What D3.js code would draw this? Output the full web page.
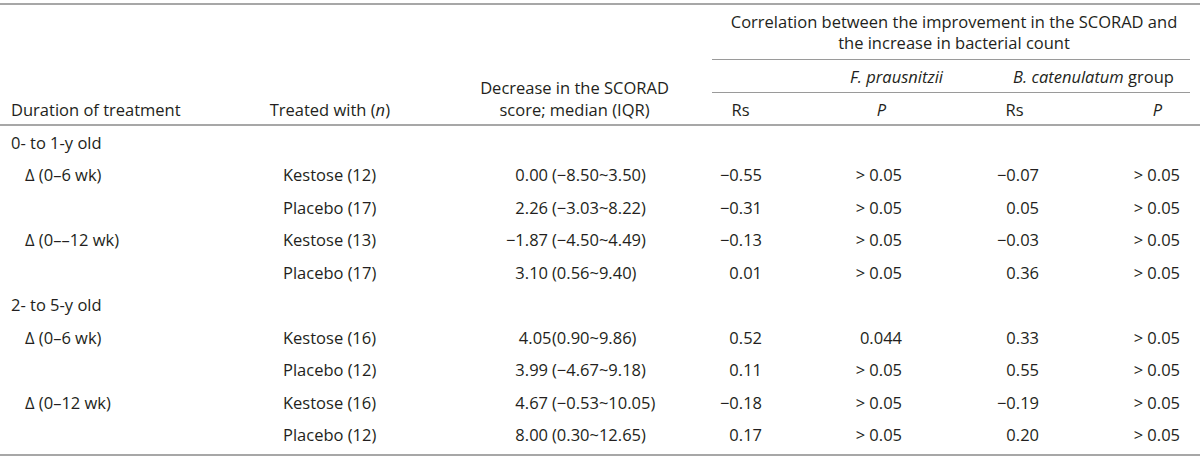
<!DOCTYPE html>
<html>
<head>
<meta charset="utf-8">
<script src="https://cdn.jsdelivr.net/npm/d3@7"></script>
<style>
  html, body { margin: 0; padding: 0; background: #fff; }
  svg text { font-family: "Open Sans", "Noto Sans", sans-serif; font-size: 16.5px; fill: #231f20; }
</style>
</head>
<body>
<svg id="chart" width="1200" height="459"></svg>
<script>
// ---- data ----
const ageGroups = ["0- to 1-y old", "2- to 5-y old"];
const durations = ["Δ (0–6 wk)", "Δ (0––12 wk)", "Δ (0–6 wk)", "Δ (0–12 wk)"];
const treatments = ["Kestose (12)", "Placebo (17)", "Kestose (13)", "Placebo (17)",
                    "Kestose (16)", "Placebo (12)", "Kestose (16)", "Placebo (12)"];
const scoradDecrease = ["0.00 (−8.50~3.50)", "2.26 (−3.03~8.22)", "−1.87 (−4.50~4.49)", "3.10 (0.56~9.40)",
                        "4.05(0.90~9.86)", "3.99 (−4.67~9.18)", "4.67 (−0.53~10.05)", "8.00 (0.30~12.65)"];
const fpRs = ["−0.55", "−0.31", "−0.13", "0.01", "0.52", "0.11", "−0.18", "0.17"];
const fpP  = ["> 0.05", "> 0.05", "> 0.05", "> 0.05", "0.044", "> 0.05", "> 0.05", "> 0.05"];
const bcRs = ["−0.07", "0.05", "−0.03", "0.36", "0.33", "0.55", "−0.19", "0.20"];
const bcP  = ["> 0.05", "> 0.05", "> 0.05", "> 0.05", "> 0.05", "> 0.05", "> 0.05", "> 0.05"];

// ---- layout ----
const svg = d3.select("#chart");
const W = 1200;

// body rows: 0 = group header, 1..4 data, 5 = group header, 6..9 data
const rowY = d3.scaleLinear().domain([0, 9]).range([143, 435.5]);

const col = {
  dur: 11, durIndent: 25, treat: 283, paren: 552,
  rs1: 762, p1: 902, rs2: 1039, p2: 1180
};

const lineMain = { stroke: "#a7a7a7", width: 2 };
const lineSub = { stroke: "#9a9a9a", width: 1.2 };

function hline(x1, x2, y, st) {
  svg.append("line").attr("x1", x1).attr("x2", x2).attr("y1", y).attr("y2", y)
    .attr("stroke", st.stroke).attr("stroke-width", st.width);
}

hline(0, W, 4, lineMain);
hline(712, 1190, 59.5, lineSub);
hline(712, 1190, 92.5, lineSub);
hline(0, W, 125, lineMain);
hline(0, W, 455, lineMain);

function txt(x, y, s, anchor) {
  return svg.append("text").attr("x", x).attr("y", y).attr("dy", "0.35em")
    .attr("text-anchor", anchor || "start").text(s);
}

// ---- header ----
txt(954, 22, "Correlation between the improvement in the SCORAD and", "middle");
txt(954, 43, "the increase in bacterial count", "middle");
txt(896.5, 77, "F. prausnitzii", "middle").style("font-style", "italic");
const bc = svg.append("text").attr("x", 1093.5).attr("y", 77).attr("dy", "0.35em").attr("text-anchor", "middle");
bc.append("tspan").style("font-style", "italic").text("B. catenulatum");
bc.append("tspan").text(" group");

txt(574.5, 88, "Decrease in the SCORAD", "middle");
txt(574.5, 110, "score; median (IQR)", "middle");
txt(col.dur, 110, "Duration of treatment");
const tw = svg.append("text").attr("x", 390).attr("y", 110).attr("dy", "0.35em").attr("text-anchor", "end");
tw.append("tspan").text("Treated with (");
tw.append("tspan").style("font-style", "italic").text("n");
tw.append("tspan").text(")");
txt(740.5, 110, "Rs", "middle");
txt(881.5, 110, "P", "middle").style("font-style", "italic");
txt(1014.5, 110, "Rs", "middle");
txt(1157.5, 110, "P", "middle").style("font-style", "italic");

// ---- body ----
ageGroups.forEach((g, gi) => txt(col.dur, rowY(gi * 5), g));

const dataRows = treatments.map((t, i) => ({
  idx: Math.floor(i / 4) * 5 + (i % 4) + 1,
  dur: (i % 2 === 0) ? durations[i / 2] : null,
  treat: t, score: scoradDecrease[i],
  rs1: fpRs[i], p1: fpP[i], rs2: bcRs[i], p2: bcP[i]
}));

const g = svg.append("g").selectAll("g").data(dataRows).join("g")
  .attr("transform", d => `translate(0,${rowY(d.idx)})`);

g.filter(d => d.dur).append("text").attr("x", col.durIndent).attr("dy", "0.35em").text(d => d.dur);
g.append("text").attr("x", col.treat).attr("dy", "0.35em").text(d => d.treat);
g.append("text").attr("x", d => col.paren - (d.score.indexOf(" (") >= 0 ? 4 : 0.5))
  .attr("dy", "0.35em").attr("text-anchor", "end")
  .text(d => d.score.slice(0, d.score.indexOf("(")).trim());
g.append("text").attr("x", col.paren).attr("dy", "0.35em")
  .text(d => d.score.slice(d.score.indexOf("(")));
g.append("text").attr("x", col.rs1).attr("dy", "0.35em").attr("text-anchor", "end").text(d => d.rs1);
g.append("text").attr("x", col.p1).attr("dy", "0.35em").attr("text-anchor", "end").text(d => d.p1);
g.append("text").attr("x", col.rs2).attr("dy", "0.35em").attr("text-anchor", "end").text(d => d.rs2);
g.append("text").attr("x", col.p2).attr("dy", "0.35em").attr("text-anchor", "end").text(d => d.p2);
</script>
</body>
</html>
